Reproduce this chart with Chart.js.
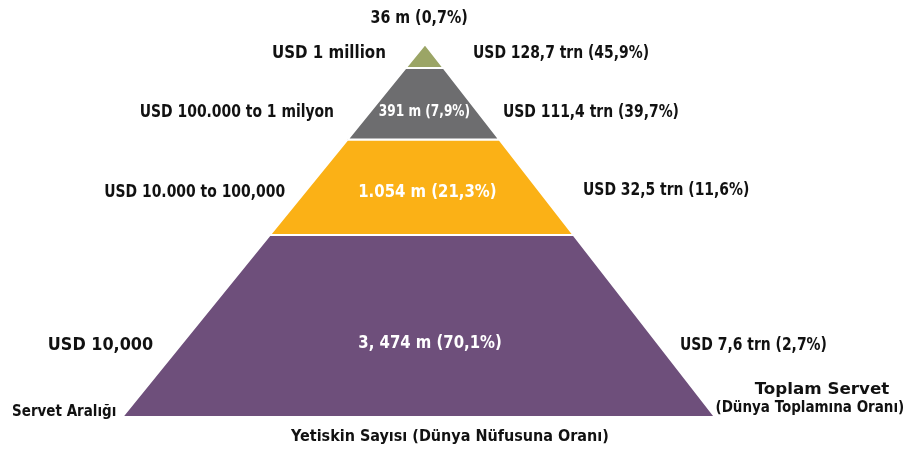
<!DOCTYPE html>
<html>
<head>
<meta charset="utf-8">
<script src="https://cdn.jsdelivr.net/npm/chart.js@4.4.0/dist/chart.umd.min.js"></script>
<style>
  body { margin: 0; background: #fff; }
  #wrap { width: 910px; height: 454px; position: relative; }
</style>
</head>
<body>
<div id="wrap"><canvas id="piramitChart"></canvas></div>
<script>
/* ---------- veri ---------- */
// katmanlar ustten alta
const servetAraligi = ["USD 1 million", "USD 100.000 to 1 milyon", "USD 10.000 to 100,000", "USD 10,000"];
const yetiskinSayisi = ["36 m (0,7%)", "391 m (7,9%)", "1.054 m (21,3%)", "3, 474 m (70,1%)"];
const toplamServet = ["USD 128,7 trn (45,9%)", "USD 111,4 trn (39,7%)", "USD 32,5 trn (11,6%)", "USD 7,6 trn (2,7%)"];
// katman sinirlari (piramit yuksekligi, 0 = taban, 100 = tepe)
const katmanUst = [100, 93.6, 74.4, 48.8];
const katmanAlt = [93.6, 74.4, 48.8, 0];
const renkler = ["#9ba566", "#6d6d6f", "#fbb116", "#6e4f7b"];

/* ---------- geometri ---------- */
const tabanSol = -1, tabanSag = 1, tepeX = 0.022;
function solKenar(h) { return tabanSol + (tepeX - tabanSol) * h / 100; }
function sagKenar(h) { return tabanSag + (tepeX - tabanSag) * h / 100; }

const datasets = katmanUst.map((ust, i) => {
    const alt = katmanAlt[i];
    return {
        data: [
            { x: solKenar(alt), y: alt },
            { x: solKenar(ust), y: ust },
            { x: sagKenar(ust), y: ust },
            { x: sagKenar(alt), y: alt },
            { x: solKenar(alt), y: alt },
        ],
        showLine: true,
        fill: "shape",
        backgroundColor: renkler[i],
        borderColor: "#ffffff",
        borderWidth: 2,
        pointRadius: 0,
        tension: 0,
    };
});

/* ---------- etiketler ---------- */
const FONT = '"Liberation Sans Narrow", "DejaVu Sans Condensed", "Roboto", sans-serif';
// [metin, x, y, hizalama, boyut, renk, yatay olcek]
const etiketler = [
    [yetiskinSayisi[0], 0.002, 107, "center", 18, "#111", 0.88],
    [servetAraligi[0], -0.110, 97.6, "right", 18, "#111", 0.93],
    [toplamServet[0], 0.184, 97.6, "left", 18, "#111", 0.86],
    [servetAraligi[1], -0.285, 81.8, "right", 18, "#111", 0.86],
    [yetiskinSayisi[1], 0.02, 81.8, "center", 15, "#fff", 0.9],
    [toplamServet[1], 0.285, 81.8, "left", 18, "#111", 0.86],
    [servetAraligi[2], -0.450, 60.3, "right", 18, "#111", 0.86],
    [yetiskinSayisi[2], 0.03, 60.3, "center", 18, "#fff", 0.92],
    [toplamServet[2], 0.555, 60.9, "left", 18, "#111", 0.86],
    [servetAraligi[3], -0.895, 19.3, "right", 18, "#111", 0.99],
    [yetiskinSayisi[3], 0.039, 19.8, "center", 18, "#fff", 0.92],
    [toplamServet[3], 0.882, 19.3, "left", 18, "#111", 0.86],
    ["Servet Aralığı", -1.371, 1.3, "left", 15, "#111", 1],
    ["Toplam Servet", 1.361, 7.4, "center", 16, "#111", 1.16],
    ["(Dünya Toplamına Oranı)", 1.320, 2.4, "center", 15, "#111", 1],
    ["Yetiskin Sayısı (Dünya Nüfusuna Oranı)", 0.106, -5.4, "center", 16, "#111", 1],
];

const etiketPlugin = {
    id: "etiketPlugin",
    afterDatasetsDraw(chart) {
        const ctx = chart.ctx;
        const sx = chart.scales.x, sy = chart.scales.y;
        etiketler.forEach((e) => {
            ctx.save();
            ctx.textBaseline = "middle";
            ctx.font = "bold " + e[4] + "px " + FONT;
            ctx.textAlign = e[3];
            ctx.fillStyle = e[5];
            ctx.translate(sx.getPixelForValue(e[1]), sy.getPixelForValue(e[2]));
            ctx.scale(e[6], 1);
            ctx.fillText(e[0], 0, 0);
            ctx.restore();
        });
    },
};

const config = {
    type: "scatter",
    data: { datasets: datasets },
    options: {
        responsive: true,
        maintainAspectRatio: false,
        animation: false,
        layout: { padding: 0 },
        plugins: { legend: { display: false }, tooltip: { enabled: false } },
        scales: {
            x: { type: "linear", display: false, min: -1.4115, max: 1.6577 },
            y: { type: "linear", display: false, min: -9.92, max: 111.8 },
        },
    },
    plugins: [etiketPlugin],
};

const piramitChart = new Chart(document.getElementById("piramitChart"), config);
</script>
</body>
</html>
